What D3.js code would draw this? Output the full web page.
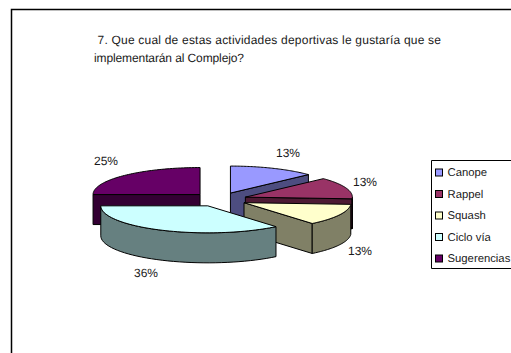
<!DOCTYPE html>
<html>
<head>
<meta charset="utf-8">
<script src="https://cdn.jsdelivr.net/npm/d3@7"></script>
<style>
html, body { margin: 0; padding: 0; background: #fff; overflow: hidden; }
text { font-family: "Liberation Sans", Arial, sans-serif; fill: #1a1a1a; text-rendering: geometricPrecision; }
</style>
</head>
<body>
<div id="container"></div>
<script>
//datos
const categories = ["Canope", "Rappel", "Squash", "Ciclo vía", "Sugerencias"];
const percents = [13, 13, 13, 36, 25];
const titleLines = ["7. Que cual de estas actividades deportivas le gustaría que se", "implementarán al Complejo?"];

//colores
const topColors = ["#9999ff", "#993366", "#ffffcc", "#ccffff", "#660066"];
const wallColors = ["#4d4d80", "#4d1a33", "#808066", "#668080", "#330033"];

//tamaño
const width = 511;
const height = 353;

//pastel
const cx = 219.5, cy = 199.5;
const rx = 107, ry = 27, depth = 30;
const explodeX = 27.5, explodeY = 7;
const fontSize = 12;

const svg = d3.select("#container").append("svg")
  .attr("width", width)
  .attr("height", height)
  .style("display", "block");

//marco
svg.append("path")
  .attr("d", "M11.5," + height + "V9.5H" + width)
  .attr("fill", "none")
  .attr("stroke", "#000")
  .attr("stroke-width", 1.5);

//titulo
svg.append("text").attr("x", 97.5).attr("y", 44).attr("font-size", fontSize)
  .attr("textLength", 343.5).text(titleLines[0]);
svg.append("text").attr("x", 94).attr("y", 62).attr("font-size", fontSize)
  .attr("textLength", 150).text(titleLines[1]);

const arcs = d3.pie().sort(null).value(function(d) { return d; })(percents);

//punto sobre la elipse
function onRim(a, o, dy) {
  return [o[0] + rx * Math.sin(a), o[1] - ry * Math.cos(a) + dy];
}

const line = d3.line();
const g = svg.append("g").attr("stroke", "#000").attr("stroke-width", 1).attr("stroke-linejoin", "round");

//orden de dibujo: de atras hacia adelante
[4, 0, 1, 2, 3].forEach(function(i) {
  const d = arcs[i];
  const mid = (d.startAngle + d.endAngle) / 2;
  const o = [cx + explodeX * Math.sin(mid), cy - explodeY * Math.cos(mid)];

  //cara del corte inicial
  if (d.startAngle > Math.PI) {
    const p = onRim(d.startAngle, o, 0);
    g.append("path").attr("fill", wallColors[i])
      .attr("d", line([o, p, [p[0], p[1] + depth], [o[0], o[1] + depth]]) + "Z");
  }
  //cara del corte final
  if (d.endAngle < Math.PI) {
    const p = onRim(d.endAngle, o, 0);
    g.append("path").attr("fill", wallColors[i])
      .attr("d", line([o, p, [p[0], p[1] + depth], [o[0], o[1] + depth]]) + "Z");
  }
  //pared exterior
  const a0 = Math.max(d.startAngle, Math.PI / 2);
  const a1 = Math.min(d.endAngle, Math.PI * 1.5);
  if (a1 > a0) {
    const steps = d3.range(0, 41).map(function(k) { return a0 + (a1 - a0) * k / 40; });
    const upper = steps.map(function(a) { return onRim(a, o, 0); });
    const lower = steps.slice().reverse().map(function(a) { return onRim(a, o, depth); });
    g.append("path").attr("fill", wallColors[i]).attr("d", line(upper.concat(lower)) + "Z");
  }
  //cara superior
  const steps = d3.range(0, 61).map(function(k) { return d.startAngle + (d.endAngle - d.startAngle) * k / 60; });
  const rim = steps.map(function(a) { return onRim(a, o, 0); });
  g.append("path").attr("fill", topColors[i]).attr("d", line([o].concat(rim)) + "Z");
});

//etiquetas
const labelPos = [[276, 157], [353, 186], [348, 255], [134, 277], [94, 165]];
percents.forEach(function(v, i) {
  svg.append("text").attr("x", labelPos[i][0]).attr("y", labelPos[i][1]).attr("font-size", fontSize).text(v + "%");
});

//leyenda
svg.append("path")
  .attr("d", "M" + width + ",160.5H431.5V268.5H" + width)
  .attr("fill", "#fff")
  .attr("stroke", "#000");

const legendY = d3.scalePoint().domain(categories).range([172, 258]);
categories.forEach(function(c, i) {
  svg.append("rect")
    .attr("x", 435.5).attr("y", legendY(c) - 3)
    .attr("width", 7).attr("height", 7)
    .attr("fill", topColors[i]).attr("stroke", "#000");
  svg.append("text")
    .attr("x", 447.5).attr("y", legendY(c) + 4)
    .attr("font-size", 11.3).text(c);
});
</script>
</body>
</html>
